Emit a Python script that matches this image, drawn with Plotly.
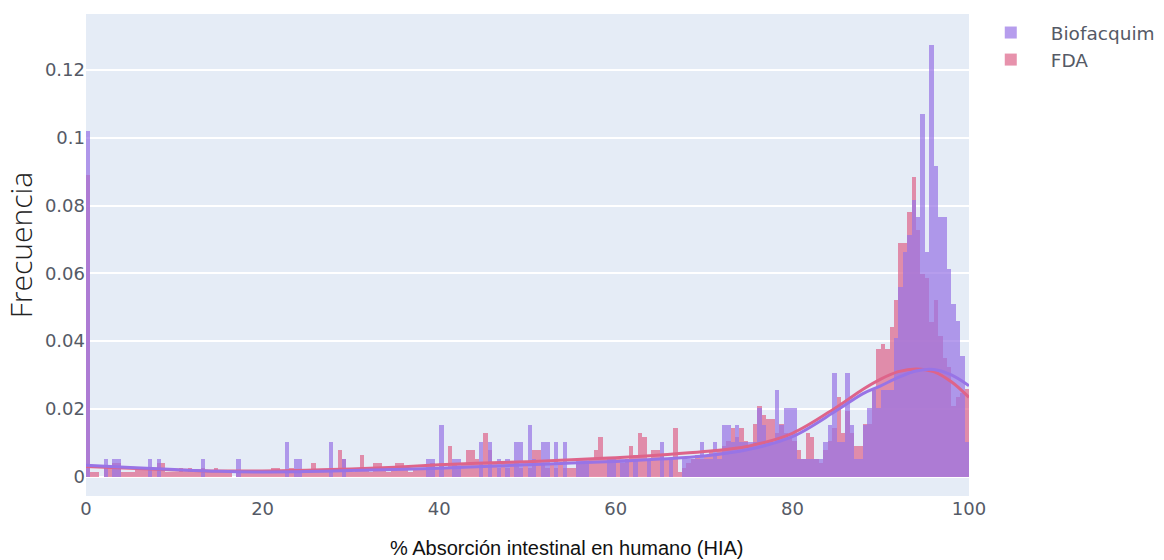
import plotly.graph_objects as go

# Histogram bins: width 0.5 from 0 to 100 (200 bins), values are probability densities
bin_width = 0.5
bin_centers = [0.25 + bin_width * i for i in range(200)]

# Biofacquim density per bin, one row per 10 % of HIA
biofacquim_density = (
    [0.1020, 0, 0, 0, 0.0051, 0, 0.0051, 0.0051, 0, 0, 0, 0, 0, 0, 0.0051, 0, 0.0051, 0, 0, 0]
    + [0, 0, 0, 0, 0, 0, 0.0051, 0, 0, 0, 0, 0, 0, 0, 0.0051, 0, 0, 0, 0, 0]
    + [0, 0, 0, 0, 0, 0.0102, 0, 0.0051, 0.0051, 0, 0, 0, 0, 0, 0, 0.0102, 0, 0, 0.0051, 0]
    + [0, 0, 0, 0, 0, 0, 0, 0, 0, 0, 0, 0, 0, 0, 0, 0, 0, 0.0051, 0.0051, 0]
    + [0.0153, 0, 0, 0.0051, 0.0051, 0, 0, 0, 0, 0.0102, 0, 0.0102, 0, 0.0051, 0, 0.0051, 0, 0.0102, 0.0102, 0]
    + [0.0153, 0.0051, 0, 0.0102, 0.0102, 0, 0.0102, 0, 0.0102, 0, 0, 0.0051, 0.0051, 0.0051, 0, 0, 0, 0, 0.0051, 0.0051]
    + [0, 0.0051, 0.0051, 0, 0.0051, 0, 0, 0.0051, 0, 0, 0.0102, 0, 0.0051, 0, 0, 0.0051, 0.0051, 0.0051, 0.0051, 0.0102]
    + [0.0051, 0.0051, 0.0102, 0.0051, 0.0153, 0.0153, 0.0102, 0.0153, 0.0102, 0.0102, 0.0102, 0.0102, 0.0204, 0.0153, 0.0102, 0.0102, 0.0255, 0.0153, 0.0204, 0.0204]
    + [0.0204, 0.0051, 0.0051, 0.0051, 0.0051, 0.0051, 0.0051, 0.0102, 0.0153, 0.0306, 0.0102, 0.0102, 0.0306, 0.0153, 0.0051, 0.0051, 0.0153, 0.0204, 0.0255, 0.0204]
    + [0.0255, 0.0255, 0.0255, 0.0408, 0.0561, 0.0663, 0.0714, 0.0816, 0.0765, 0.1071, 0.0663, 0.1275, 0.0918, 0.0765, 0.0765, 0.0612, 0.0510, 0.0459, 0.0357, 0.0102]
)

# FDA density per bin
fda_density = (
    [0.0890, 0.0013, 0.0013, 0, 0.0026, 0.0026, 0.0039, 0.0039, 0.0013, 0.0013, 0.0013, 0.0026, 0.0026, 0.0026, 0.0026, 0.0026, 0.0039, 0.0039, 0.0013, 0.0013]
    + [0.0013, 0.0026, 0.0013, 0.0026, 0.0013, 0.0013, 0.0026, 0.0013, 0.0013, 0.0026, 0.0013, 0.0013, 0.0013, 0, 0.0013, 0.0013, 0.0013, 0.0013, 0.0013, 0.0013]
    + [0.0013, 0.0013, 0.0026, 0.0026, 0.0013, 0.0013, 0.0026, 0.0013, 0.0013, 0.0013, 0.0013, 0.0039, 0.0013, 0.0013, 0.0013, 0.0013, 0.0013, 0.0078, 0.0052, 0.0013]
    + [0.0013, 0.0026, 0.0065, 0.0026, 0.0013, 0.0039, 0.0039, 0.0026, 0.0013, 0.0026, 0.0039, 0.0039, 0.0026, 0.0013, 0.0026, 0.0026, 0.0026, 0.0026, 0.0039, 0.0026]
    + [0.0039, 0.0026, 0.0091, 0.0039, 0.0026, 0.0039, 0.0078, 0.0078, 0.0052, 0.0039, 0.0130, 0.0078, 0.0039, 0.0026, 0.0039, 0.0026, 0.0039, 0.0039, 0.0026, 0.0039]
    + [0.0026, 0.0078, 0.0078, 0.0039, 0.0026, 0.0039, 0.0026, 0.0039, 0.0026, 0.0026, 0.0026, 0.0039, 0.0039, 0.0039, 0.0052, 0.0078, 0.0117, 0.0052, 0.0052, 0.0052]
    + [0.0052, 0.0039, 0.0052, 0.0091, 0.0065, 0.0130, 0.0117, 0.0052, 0.0078, 0.0078, 0.0065, 0.0052, 0.0052, 0.0143, 0.0013, 0.0026, 0.0039, 0.0052, 0.0065, 0.0052]
    + [0.0065, 0.0078, 0.0065, 0.0078, 0.0091, 0.0104, 0.0143, 0.0117, 0.0143, 0.0104, 0.0091, 0.0156, 0.0208, 0.0182, 0.0169, 0.0169, 0.0130, 0.0156, 0.0130, 0.0117]
    + [0.0104, 0.0078, 0.0052, 0.0130, 0.0117, 0.0052, 0.0039, 0.0078, 0.0104, 0.0143, 0.0234, 0.0130, 0.0195, 0.0130, 0.0091, 0.0091, 0.0156, 0.0156, 0.0260, 0.0377]
    + [0.0390, 0.0377, 0.0442, 0.0520, 0.0689, 0.0689, 0.0780, 0.0884, 0.0728, 0.0598, 0.0585, 0.0455, 0.0520, 0.0416, 0.0351, 0.0325, 0.0208, 0.0234, 0.0247, 0.0260]
)

# Kernel density curves
kde_x = [0, 5, 10, 15, 20, 25, 30, 35, 40, 45, 50, 55, 60, 65, 70, 75, 80, 85, 88, 90, 92, 94, 96, 98, 100]
biofacquim_kde = [0.0034, 0.0027, 0.0021, 0.0016, 0.0014, 0.0015, 0.0018, 0.0021, 0.0025, 0.0030,
                  0.0035, 0.0040, 0.0045, 0.0052, 0.0061, 0.0080, 0.0118, 0.0195, 0.0245, 0.0268,
                  0.0293, 0.0312, 0.0316, 0.0300, 0.0268]
fda_kde = [0.0030, 0.0025, 0.0020, 0.0017, 0.0017, 0.0019, 0.0023, 0.0028, 0.0035, 0.0040,
           0.0044, 0.0050, 0.0056, 0.0064, 0.0074, 0.0090, 0.0128, 0.0205, 0.0258, 0.0288,
           0.0310, 0.0318, 0.0310, 0.0280, 0.0234]

bio_color = "rgb(152, 116, 230)"
fda_color = "rgb(222, 100, 138)"

fig = go.Figure()
fig.add_trace(go.Bar(x=bin_centers, y=fda_density, width=bin_width, name="FDA",
                     marker=dict(color=fda_color, line=dict(width=0)), opacity=0.7,
                     legendrank=2))
fig.add_trace(go.Bar(x=bin_centers, y=biofacquim_density, width=bin_width, name="Biofacquim",
                     marker=dict(color=bio_color, line=dict(width=0)), opacity=0.7,
                     legendrank=1))
fig.add_trace(go.Scatter(x=kde_x, y=fda_kde, mode="lines", line=dict(color=fda_color, width=3, shape="spline"),
                         showlegend=False, hoverinfo="skip"))
fig.add_trace(go.Scatter(x=kde_x, y=biofacquim_kde, mode="lines", line=dict(color=bio_color, width=3, shape="spline"),
                         showlegend=False, hoverinfo="skip"))

tick_font = dict(family="DejaVu Sans, Verdana, sans-serif", size=18, color="#555a66")

fig.update_layout(
    width=1164, height=560,
    margin=dict(l=86, r=195, t=14, b=64, autoexpand=False),
    barmode="overlay", bargap=0,
    plot_bgcolor="#E5ECF6", paper_bgcolor="white",
    font=dict(family="DejaVu Sans, Verdana, sans-serif"),
    legend=dict(x=1.002, y=1.0, xanchor="left", yanchor="top", itemwidth=70,
                font=dict(family="DejaVu Sans, Verdana, sans-serif", size=18.5, color="#555a66")),
    xaxis=dict(range=[0, 100], tickvals=[0, 20, 40, 60, 80, 100], showgrid=False,
               zeroline=False, showline=False, tickfont=tick_font, ticks=""),
    yaxis=dict(range=[-0.0057, 0.1365], tickvals=[0, 0.02, 0.04, 0.06, 0.08, 0.1, 0.12],
               ticktext=["0", "0.02", "0.04", "0.06", "0.08", "0.1", "0.12"],
               gridcolor="white", gridwidth=2, zeroline=True, zerolinecolor="white", zerolinewidth=2,
               showline=False, tickfont=tick_font, ticks=""),
    annotations=[
        dict(text="Frecuencia", xref="paper", yref="paper", x=-0.0745, y=0.5207,
             xanchor="center", yanchor="middle", textangle=-90, showarrow=False,
             font=dict(family="Open Sans, sans-serif", size=30, color="#222222", weight=300)),
        dict(text="% Absorción intestinal en humano (HIA)", xref="paper", yref="paper",
             x=0.545, y=-0.108, xanchor="center", yanchor="middle", showarrow=False,
             font=dict(family="Liberation Sans, Arial", size=20, color="#111111")),
    ],
)

fig.write_html("out.html")
